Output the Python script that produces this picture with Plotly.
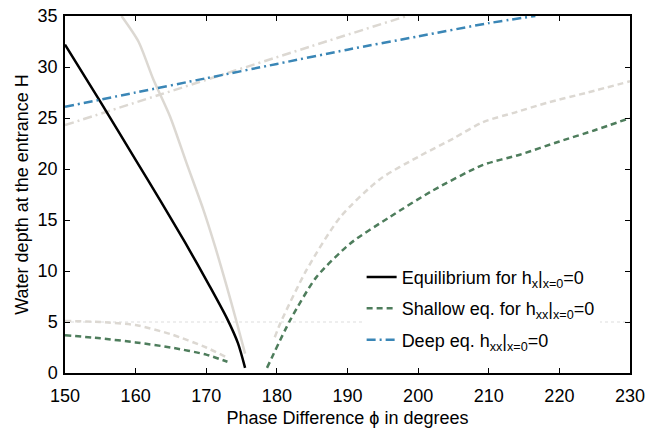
import plotly.graph_objects as go

# Equilibrium for h_x|x=0 = 0 (black)
eq_phi = [150, 155, 160, 163.5, 167, 170.5, 172.9, 174.5, 175.5]
eq_H = [32.2, 26.6, 20.9, 16.9, 12.8, 8.5, 5.4, 2.9, 0.5]

# light gray solid companion curve
gs_phi = [158.0, 160.4, 162.5, 164.9, 167.2, 169.6, 171.3, 172.9, 174.3, 175.5]
gs_H = [35, 32.5, 28.8, 25.1, 20.6, 16.0, 12.3, 8.5, 5.0, 1.9]

# light gray dashed curves
gdl_phi = [150, 155, 160, 165, 170, 172.7]
gdl_H = [5.1, 5.0, 4.7, 3.8, 2.5, 1.6]
gdr_phi = [179.7, 180.5, 184.2, 189, 194.6, 200.3, 205, 209.2, 214, 218.3, 224, 230]
gdr_H = [3.5, 4.9, 10.1, 15.3, 19.0, 21.3, 23.0, 24.6, 25.6, 26.5, 27.5, 28.6]
# light gray dash-dot curve
gdu_phi = [150, 163.5, 184.7, 198.4]
gdu_H = [24.3, 27.3, 32.0, 35.0]

# Shallow eq. (green dashed)
shl_phi = [150, 155, 160, 165, 170, 173]
shl_H = [3.7, 3.4, 3.0, 2.5, 1.8, 1.1]
shr_phi = [178.6, 181.9, 185.6, 190.4, 196, 202.1, 209.2, 214.4, 220, 225, 230]
shr_H = [0.5, 5.2, 9.4, 12.7, 15.3, 17.9, 20.4, 21.4, 22.7, 23.8, 25.0]

# Deep eq. (blue dash-dot)
dp_phi = [150, 160, 170, 180, 190, 200, 210, 216.6]
dp_H = [26.1, 27.5, 28.9, 30.3, 31.7, 33.0, 34.3, 35.0]

# dotted reference level
dot_phi = [150, 230]
dot_H = [5, 5]

x_ticks = [150, 160, 170, 180, 190, 200, 210, 220, 230]
y_ticks = [0, 5, 10, 15, 20, 25, 30, 35]

GRAY = "#dcd8d2"
GREEN = "#4e7d5c"
BLUE = "#3a86b6"
FONT = "Liberation Sans, Arial, Helvetica, sans-serif"
FS = 18
SM = 0.7

fig = go.Figure()
fig.add_trace(go.Scatter(x=dot_phi, y=dot_H, mode="lines", showlegend=False,
                         line=dict(color="#dddddd", width=1, dash="dot")))
fig.add_trace(go.Scatter(x=gs_phi, y=gs_H, mode="lines", showlegend=False,
                         line=dict(color=GRAY, width=2.5, shape="spline", smoothing=SM)))
for px, py in [(gdl_phi, gdl_H), (gdr_phi, gdr_H)]:
    fig.add_trace(go.Scatter(x=px, y=py, mode="lines", showlegend=False,
                             line=dict(color=GRAY, width=2.5, dash="6px,4px", shape="spline", smoothing=SM)))
fig.add_trace(go.Scatter(x=gdu_phi, y=gdu_H, mode="lines", showlegend=False,
                         line=dict(color=GRAY, width=2.5, dash="9px,4px,2px,4px", shape="spline", smoothing=SM)))
fig.add_trace(go.Scatter(x=eq_phi, y=eq_H, mode="lines", legendgroup="eq",
                         name="Equilibrium for h<sub>x</sub>|<sub>x=0</sub>=0",
                         line=dict(color="black", width=2.5, shape="spline", smoothing=SM)))
fig.add_trace(go.Scatter(x=shl_phi, y=shl_H, mode="lines", legendgroup="sh",
                         name="Shallow eq. for h<sub>xx</sub>|<sub>x=0</sub>=0",
                         line=dict(color=GREEN, width=2.5, dash="6px,4px", shape="spline", smoothing=SM)))
fig.add_trace(go.Scatter(x=shr_phi, y=shr_H, mode="lines", legendgroup="sh", showlegend=False,
                         line=dict(color=GREEN, width=2.5, dash="6px,4px", shape="spline", smoothing=SM)))
fig.add_trace(go.Scatter(x=dp_phi, y=dp_H, mode="lines", legendgroup="dp",
                         name="Deep eq. h<sub>xx</sub>|<sub>x=0</sub>=0",
                         line=dict(color=BLUE, width=2.5, dash="9px,4px,2px,4px", shape="spline", smoothing=SM)))

axis_common = dict(showline=True, linecolor="black", linewidth=1.5, mirror="ticks",
                   ticks="inside", ticklen=5, tickcolor="black", showgrid=False,
                   zeroline=False, automargin=False,
                   tickfont=dict(size=FS, color="black", family=FONT))
fig.update_xaxes(range=[150, 230], tickvals=x_ticks, ticklabelstandoff=6,
                 title=dict(text="Phase Difference \u03d5 in degrees", font=dict(size=FS, color="black", family=FONT), standoff=6),
                 **axis_common)
fig.update_yaxes(range=[0, 35], tickvals=y_ticks, ticklabelstandoff=2,
                 title=dict(text="Water depth at the entrance H", font=dict(size=FS, color="black", family=FONT), standoff=4),
                 **axis_common)
fig.update_layout(
    width=648, height=432,
    margin=dict(l=65, r=18, t=16, b=59),
    paper_bgcolor="white", plot_bgcolor="white",
    font=dict(family=FONT, color="black", size=FS),
    legend=dict(x=0.525, y=0.32, xanchor="left", yanchor="top", bgcolor="white",
                borderwidth=0, font=dict(size=FS, family=FONT), tracegroupgap=5),
)
fig.write_html("out.html")
